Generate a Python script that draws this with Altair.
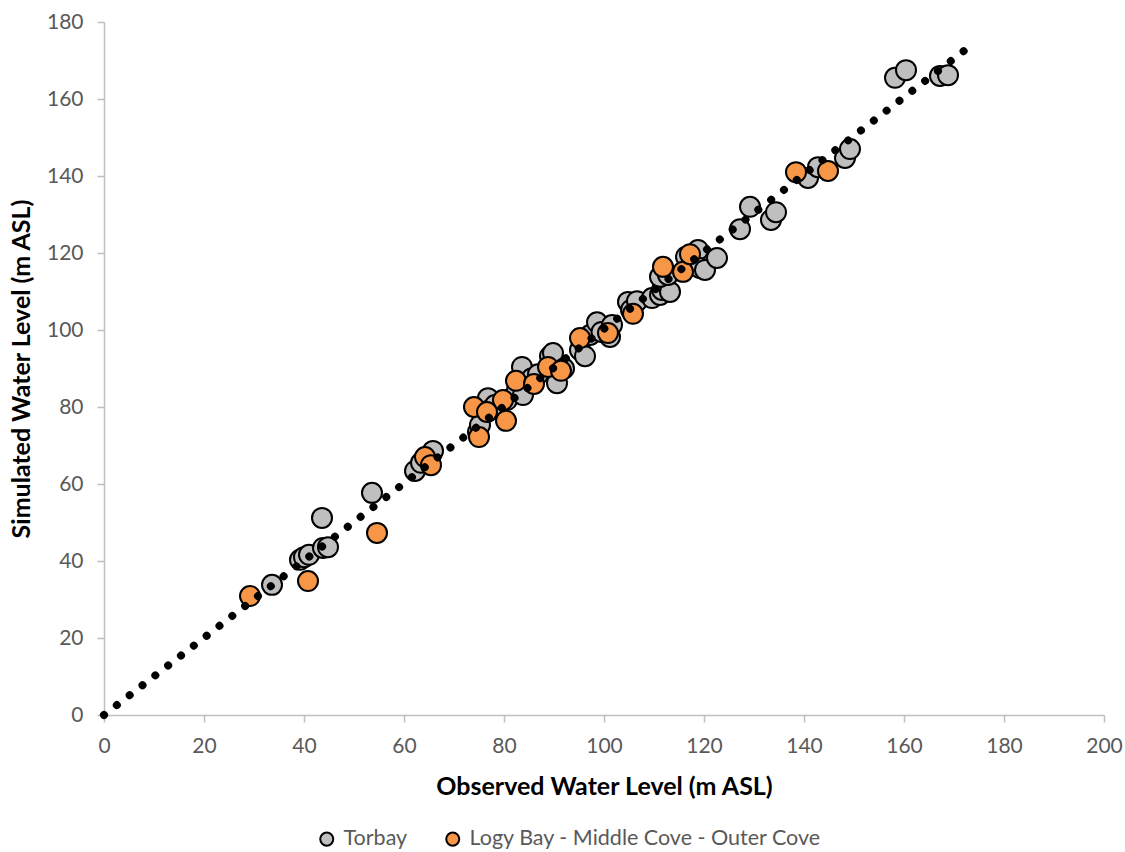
import altair as alt
import pandas as pd

# Torbay (grey)
tor_x = [33.6, 39.2, 40.0, 41.0, 43.6, 43.8, 44.8, 53.6, 62.2, 63.4, 65.8, 74.8, 75.2, 76.8,
         77.2, 78.2, 80.6, 82.6, 83.6, 83.8, 85.6, 86.8, 89.2, 89.8, 90.6, 92.0, 95.2, 96.2,
         97.2, 98.6, 99.5, 101.2, 101.6, 104.8, 105.4, 106.6, 109.6, 111.2, 111.6, 113.2,
         111.2, 112.8, 116.4, 118.8, 119.2, 120.2, 122.6, 127.2, 129.2, 133.4, 134.4, 140.8,
         142.8, 148.2, 149.2, 158.2, 160.4, 167.2, 168.8]
tor_y = [33.8, 40.3, 41.0, 41.6, 51.2, 43.4, 43.6, 57.7, 63.4, 65.5, 68.6, 73.5, 75.3, 82.3,
         79.2, 80.5, 81.8, 84.4, 90.4, 83.1, 87.5, 88.5, 93.2, 94.0, 86.2, 90.0, 94.8, 93.2,
         98.7, 102.0, 99.5, 98.2, 101.3, 107.3, 105.2, 107.5, 108.3, 109.1, 110.4, 109.9,
         113.8, 114.3, 119.0, 120.8, 116.1, 115.6, 118.7, 126.2, 132.0, 128.6, 130.6, 139.5,
         142.3, 144.7, 147.0, 165.5, 167.5, 166.0, 166.2]

# Logy Bay - Middle Cove - Outer Cove (orange)
logy_x = [29.2, 40.8, 54.6, 64.2, 65.4, 74.0, 75.0, 76.6, 79.8, 80.4, 82.4, 86.0, 88.8, 91.4,
          95.2, 100.8, 105.8, 111.8, 115.8, 117.2, 138.4, 144.8]
logy_y = [30.9, 34.8, 47.3, 67.0, 64.9, 80.0, 72.2, 78.7, 81.8, 76.4, 86.8, 86.0, 90.4, 89.4,
          97.9, 99.2, 104.2, 116.4, 115.1, 119.7, 141.0, 141.3]

# 1:1 line
line_x = [0, 173]
line_y = [0, 173.5]

series_names = ["Torbay", "Logy Bay - Middle Cove - Outer Cove"]
series_colors = ["#BFBFBF", "#F79646"]

pts = pd.DataFrame({
    "obs": tor_x + logy_x,
    "sim": tor_y + logy_y,
    "series": [series_names[0]] * len(tor_x) + [series_names[1]] * len(logy_x),
    "ord": list(range(len(tor_x) + len(logy_x))),
})
line_df = pd.DataFrame({"obs": line_x, "sim": line_y})

FONT = "Lato"

xscale = alt.Scale(domain=[0, 200], nice=False, zero=False)
yscale = alt.Scale(domain=[0, 180], nice=False, zero=False)

xaxis = alt.Axis(title="Observed Water Level (m ASL)", values=list(range(0, 201, 20)),
                 grid=False, domainColor="#BFBFBF", tickColor="#BFBFBF", tickSize=7,
                 domainWidth=1.5, tickWidth=1.5, labelFlush=False,
                 labelFont=FONT, labelFontSize=21, labelColor="#595959", labelPadding=13,
                 titleFont=FONT, titleFontSize=25, titleFontWeight="bold", titleColor="#000000",
                 titlePadding=18)
yaxis = alt.Axis(title="Simulated Water Level (m ASL)", values=list(range(0, 181, 20)),
                 grid=False, domainColor="#BFBFBF", tickColor="#BFBFBF", tickSize=7,
                 domainWidth=1.5, tickWidth=1.5, labelFlush=False,
                 labelFont=FONT, labelFontSize=21, labelColor="#595959", labelPadding=14,
                 titleFont=FONT, titleFontSize=25, titleFontWeight="bold", titleColor="#000000",
                 titlePadding=12)

points = alt.Chart(pts).mark_circle(size=400, opacity=1, stroke="black", strokeWidth=2).encode(
    x=alt.X("obs:Q", scale=xscale, axis=xaxis),
    y=alt.Y("sim:Q", scale=yscale, axis=yaxis),
    fill=alt.Fill("series:N", scale=alt.Scale(domain=series_names, range=series_colors),
                  legend=alt.Legend(title=None, orient="none", direction="horizontal",
                                    legendX=212, legendY=806, symbolType="circle",
                                    symbolSize=170, symbolStrokeColor="black",
                                    symbolStrokeWidth=2,
                                    labelFont=FONT, labelFontSize=21.5, labelColor="#595959",
                                    labelOffset=6, labelLimit=0, columnPadding=34, padding=0)),
    order=alt.Order("ord:Q"),
)

line = alt.Chart(line_df).mark_line(color="black", strokeWidth=8, strokeDash=[0.01, 16.2],
                                    strokeCap="round").encode(
    x=alt.X("obs:Q", scale=xscale),
    y=alt.Y("sim:Q", scale=yscale),
)

chart = alt.layer(points, line).properties(
    width=1000, height=693,
    autosize=alt.AutoSizeParams(type="none"),
    padding={"left": 104, "top": 22, "right": 21, "bottom": 137},
    background="white",
).configure_view(stroke=None)

chart.save("out.html", embed_options={"renderer": "svg", "actions": False})
